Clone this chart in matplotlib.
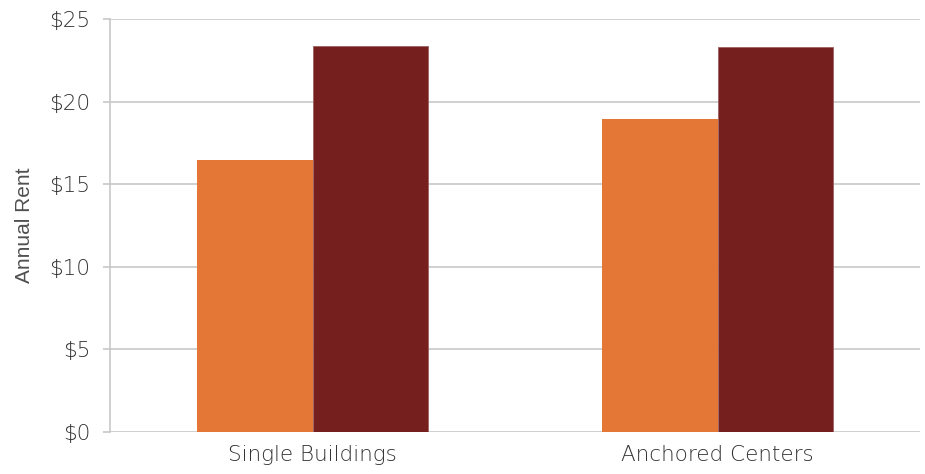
import numpy as np
import matplotlib
matplotlib.use("Agg")
import matplotlib.pyplot as plt

# Average annual rent by property type
categories = ["Single Buildings", "Anchored Centers"]
series_a = [16.45, 18.95]
series_b = [23.35, 23.3]
y_ticks = [0, 5, 10, 15, 20, 25]
y_tick_labels = ["$0", "$5", "$10", "$15", "$20", "$25"]

orange = "#E47735"
dark_red = "#75201F"
grid_grey = "#C8C8C8"
text_grey = "#333333"

fig = plt.figure(figsize=(9.25, 4.74), dpi=100)
ax = fig.add_axes([0.119, 0.0886, 0.8756, 0.8714])

x = np.arange(len(categories))
width = 0.286
ax.bar(x - width / 2, series_a, width, color=orange, zorder=3)
ax.bar(x + width / 2, series_b, width, color=dark_red, zorder=3,
       edgecolor="#A06060", linewidth=0.6)

ax.set_xlim(-0.5, 1.5)
ax.set_ylim(0, 25)
ax.set_yticks(y_ticks)
ax.set_yticklabels(y_tick_labels)
ax.set_xticks(x)
ax.set_xticklabels(categories)

ax.yaxis.grid(True, color=grid_grey, linewidth=1.2, zorder=0)
for side in ["top", "right", "bottom"]:
    ax.spines[side].set_visible(False)
ax.spines["left"].set_color(grid_grey)
ax.spines["left"].set_linewidth(1.2)

ax.tick_params(axis="y", length=5, width=1.2, color=grid_grey,
               labelsize=15.5, labelcolor=text_grey, pad=9)
ax.tick_params(axis="x", length=0, labelsize=15.5, labelcolor=text_grey, pad=9)
for lbl in ax.get_xticklabels() + ax.get_yticklabels():
    lbl.set_family("DejaVu Sans")
    lbl.set_fontweight("light")

ax.set_ylabel("Annual Rent", fontsize=15, color="#505050",
              family="Liberation Sans", labelpad=11)

fig.savefig("out.png", dpi=100)
